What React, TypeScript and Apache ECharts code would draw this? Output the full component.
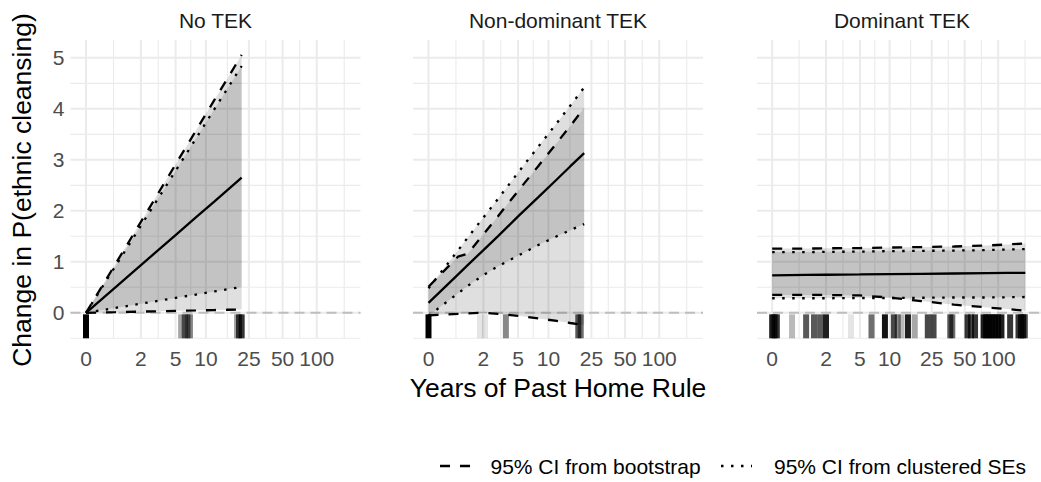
import React, { useEffect, useRef } from "react";
import * as echarts from "echarts";

const FONT = "'Liberation Sans', Arial, Helvetica, sans-serif";

// ---------- texts ----------
const PANEL_TITLES = ["No TEK", "Non-dominant TEK", "Dominant TEK"];
const X_TITLE = "Years of Past Home Rule";
const Y_TITLE = "Change in P(ethnic cleansing)";
const LEGEND_BOOT = "95% CI from bootstrap";
const LEGEND_CLUST = "95% CI from clustered SEs";

// ---------- axis ticks ----------
const X_TICK_YEARS = [0, 2, 5, 10, 25, 50, 100];
const Y_TICKS = [0, 1, 2, 3, 4, 5];
const Y_MINOR = [-0.5, 0.5, 1.5, 2.5, 3.5, 4.5];

// ---------- No TEK ----------
const NO_YEARS = [0, 0.8, 1.2, 2, 3, 5, 8, 12, 16, 21.5];
const NO_EST = [0, 0.5, 0.67, 0.935, 1.18, 1.525, 1.87, 2.18, 2.41, 2.65];
const NO_BOOT_HI = [0, 0.955, 1.28, 1.785, 2.25, 2.91, 3.57, 4.17, 4.6, 5.06];
const NO_BOOT_LO = [0, 0.012, 0.017, 0.023, 0.029, 0.038, 0.046, 0.054, 0.06, 0.065];
const NO_CLUST_HI = [0, 0.915, 1.225, 1.71, 2.155, 2.785, 3.415, 3.99, 4.405, 4.84];
const NO_CLUST_LO = [0, 0.096, 0.128, 0.179, 0.226, 0.292, 0.358, 0.418, 0.462, 0.508];
// rug: [years, number of observations]
const NO_RUG = [[0, 60], [5.7, 4], [6.2, 8], [6.6, 8], [7, 6], [19.5, 4], [20.3, 12], [21.5, 15]];

// ---------- Non-dominant TEK ----------
const ND_YEARS = [0, 0.8, 1.2, 2, 3, 5, 8, 12, 16, 21.5];
const ND_EST = [0.196, 0.75, 0.94, 1.23, 1.5, 1.89, 2.27, 2.615, 2.87, 3.13];
const ND_BOOT_HI = [0.51, 1.1, 1.16, 1.54, 1.89, 2.39, 2.88, 3.33, 3.66, 4.02];
const ND_BOOT_LO = [-0.05, -0.02, -0.01, 0.0, -0.02, -0.06, -0.11, -0.16, -0.2, -0.24];
const ND_CLUST_HI = [0.48, 1.22, 1.48, 1.87, 2.23, 2.75, 3.26, 3.72, 4.06, 4.42];
const ND_CLUST_LO = [-0.06, 0.38, 0.53, 0.74, 0.91, 1.12, 1.33, 1.5, 1.62, 1.74];
const ND_RUG = [[0, 60], [1.8, 1], [2.1, 1], [3.7, 6], [19, 10], [20, 8]];

// ---------- Dominant TEK ----------
const D_YEARS = [0, 1, 2, 5, 10, 20, 40, 80, 120, 175];
const D_EST = [0.735, 0.742, 0.746, 0.752, 0.758, 0.765, 0.771, 0.778, 0.782, 0.785];
const D_BOOT_HI = [1.26, 1.26, 1.265, 1.27, 1.28, 1.29, 1.3, 1.32, 1.34, 1.36];
const D_BOOT_LO = [0.35, 0.35, 0.35, 0.34, 0.3, 0.23, 0.16, 0.105, 0.075, 0.04];
const D_CLUST_HI = [1.19, 1.19, 1.195, 1.2, 1.21, 1.215, 1.22, 1.23, 1.24, 1.25];
const D_CLUST_LO = [0.285, 0.285, 0.285, 0.29, 0.29, 0.295, 0.3, 0.3, 0.305, 0.31];
const D_RUG = [
  [0, 20], [0.05, 15], [0.1, 15],
  [0.5, 3],
  [1, 10], [1.35, 10], [1.66, 10], [2, 20],
  [4, 1],
  [6.6, 8],
  [9, 25],
  [11, 12], [12, 6], [13, 3],
  [15, 20], [17.4, 4],
  [23, 12], [26, 12],
  [37, 10], [38.6, 8],
  [53, 15], [57, 12], [62, 15],
  [74, 20], [78, 20], [83, 20], [88, 20], [94, 20], [100, 20], [107, 20],
  [128, 15],
  [152, 15], [160, 15], [167, 15], [173, 12],
];

// ---------- layout / style ----------
const GRID_LEFTS = [70.5, 413, 757];
const GRID_TOP = 40;
const GRID_W = 290;
const GRID_H = 298.3;
const X_MIN = -0.31;
const X_MAX = 5.49;
const Y_MIN = -0.5;
const Y_MAX = 5.35;
const RUG_TOP = -0.03;
const GRID_COLOR = "#EBEBEB";
const LINE_W = 2.3;
const DASH = [10, 10];
const DOT = [2.5, 7.5];
const BAND_FILL = "rgba(0,0,0,0.125)";

const tf = (y: number) => Math.log1p(y);
const X_TICK_T = X_TICK_YEARS.map(tf);
const X_MINOR_T = (() => {
  const out: number[] = [];
  for (let i = 0; i < X_TICK_T.length - 1; i++) out.push((X_TICK_T[i] + X_TICK_T[i + 1]) / 2);
  const step = X_TICK_T[1] - X_TICK_T[0];
  out.push(X_TICK_T[X_TICK_T.length - 1] + step / 2);
  return out;
})();

const PANELS = [
  { years: NO_YEARS, est: NO_EST, bootHi: NO_BOOT_HI, bootLo: NO_BOOT_LO, clHi: NO_CLUST_HI, clLo: NO_CLUST_LO, rug: NO_RUG },
  { years: ND_YEARS, est: ND_EST, bootHi: ND_BOOT_HI, bootLo: ND_BOOT_LO, clHi: ND_CLUST_HI, clLo: ND_CLUST_LO, rug: ND_RUG },
  { years: D_YEARS, est: D_EST, bootHi: D_BOOT_HI, bootLo: D_BOOT_LO, clHi: D_CLUST_HI, clLo: D_CLUST_LO, rug: D_RUG },
];

function gridRender(_p: any, api: any) {
  const children: any[] = [];
  const top = api.coord([0, Y_MAX])[1];
  const bottom = api.coord([0, Y_MIN])[1];
  const left = api.coord([X_MIN, 0])[0];
  const right = api.coord([X_MAX, 0])[0];
  X_MINOR_T.forEach((t) => {
    const x = api.coord([t, 0])[0];
    children.push({ type: "line", shape: { x1: x, y1: top, x2: x, y2: bottom }, style: { stroke: GRID_COLOR, lineWidth: 1.1 } });
  });
  Y_MINOR.forEach((v) => {
    const y = api.coord([0, v])[1];
    children.push({ type: "line", shape: { x1: left, y1: y, x2: right, y2: y }, style: { stroke: GRID_COLOR, lineWidth: 1.1 } });
  });
  X_TICK_T.forEach((t) => {
    const x = api.coord([t, 0])[0];
    children.push({ type: "line", shape: { x1: x, y1: top, x2: x, y2: bottom }, style: { stroke: GRID_COLOR, lineWidth: 2 } });
  });
  Y_TICKS.forEach((v) => {
    const y = api.coord([0, v])[1];
    children.push({ type: "line", shape: { x1: left, y1: y, x2: right, y2: y }, style: { stroke: GRID_COLOR, lineWidth: 2 } });
  });
  const y0 = api.coord([0, 0])[1];
  children.push({ type: "line", shape: { x1: left, y1: y0, x2: right, y2: y0 }, style: { stroke: "#BEBEBE", lineWidth: 2, lineDash: [10, 6] } });
  return { type: "group", children };
}

function bandRender(years: number[], hi: number[], lo: number[]) {
  return (_p: any, api: any) => {
    const pts: number[][] = [];
    years.forEach((yr, i) => pts.push(api.coord([tf(yr), hi[i]])));
    for (let i = years.length - 1; i >= 0; i--) pts.push(api.coord([tf(years[i]), lo[i]]));
    return { type: "polygon", shape: { points: pts }, style: { fill: BAND_FILL } };
  };
}

function rugRender(_p: any, api: any) {
  const t = api.value(0);
  const n = api.value(1);
  const [x, yTop] = api.coord([t, RUG_TOP]);
  const yBot = api.coord([t, Y_MIN])[1];
  return {
    type: "rect",
    shape: { x: x - 3, y: yTop, width: 6, height: yBot - yTop },
    style: { fill: "#000", opacity: 1 - Math.pow(0.9, n) },
  };
}

function buildOption() {
  const grid: any[] = [];
  const xAxis: any[] = [];
  const yAxis: any[] = [];
  const series: any[] = [];

  PANELS.forEach((p, i) => {
    grid.push({ left: GRID_LEFTS[i], top: GRID_TOP, width: GRID_W, height: GRID_H });
    xAxis.push({
      type: "value",
      gridIndex: i,
      min: X_MIN,
      max: X_MAX,
      axisLine: { show: false },
      axisTick: { show: false },
      splitLine: { show: false },
      axisLabel: {
        customValues: X_TICK_T,
        formatter: (v: number) => String(Math.round(Math.expm1(v))),
        fontSize: 21,
        fontFamily: FONT,
        color: "#4D4D4D",
        margin: 10,
      },
    });
    yAxis.push({
      type: "value",
      gridIndex: i,
      min: Y_MIN,
      max: Y_MAX,
      axisLine: { show: false },
      axisTick: { show: false },
      splitLine: { show: false },
      axisLabel: {
        show: i === 0,
        customValues: Y_TICKS,
        fontSize: 21,
        fontFamily: FONT,
        color: "#4D4D4D",
        margin: 6,
      },
    });

    series.push({ type: "custom", xAxisIndex: i, yAxisIndex: i, z: 0, silent: true, data: [[0, 0]], renderItem: gridRender });
    series.push({ type: "custom", xAxisIndex: i, yAxisIndex: i, z: 1, silent: true, data: [[0, 0]], renderItem: bandRender(p.years, p.bootHi, p.bootLo) });
    series.push({ type: "custom", xAxisIndex: i, yAxisIndex: i, z: 1, silent: true, data: [[0, 0]], renderItem: bandRender(p.years, p.clHi, p.clLo) });
    series.push({
      type: "custom", xAxisIndex: i, yAxisIndex: i, z: 1, silent: true,
      data: p.rug.map((r) => [tf(r[0]), r[1]]),
      renderItem: rugRender,
    });
    const mk = (vals: number[], type: any) => ({
      type: "line",
      xAxisIndex: i,
      yAxisIndex: i,
      z: 3,
      silent: true,
      showSymbol: false,
      symbol: "none",
      data: p.years.map((yr, k) => [tf(yr), vals[k]]),
      lineStyle: { color: "#000", width: LINE_W, type, cap: "butt" },
    });
    series.push(mk(p.est, "solid"));
    series.push(mk(p.bootHi, DASH));
    series.push(mk(p.bootLo, DASH));
    series.push(mk(p.clHi, DOT));
    series.push(mk(p.clLo, DOT));
  });

  const graphic: any[] = [];
  PANEL_TITLES.forEach((t, i) => {
    graphic.push({
      type: "text",
      x: GRID_LEFTS[i] + GRID_W / 2,
      y: 20,
      style: { text: t, fontSize: 21, fontFamily: FONT, fill: "#1A1A1A", textAlign: "center", textVerticalAlign: "middle" },
    });
  });
  graphic.push({
    type: "text", x: 558, y: 388,
    style: { text: X_TITLE, fontSize: 26.5, fontFamily: FONT, fill: "#000", textAlign: "center", textVerticalAlign: "middle" },
  });
  graphic.push({
    type: "text", x: 22, y: 190, rotation: Math.PI / 2,
    style: { text: Y_TITLE, fontSize: 26.5, fontFamily: FONT, fill: "#000", textAlign: "center", textVerticalAlign: "middle" },
  });
  // legend
  graphic.push({ type: "line", shape: { x1: 440, y1: 466, x2: 471, y2: 466 }, style: { stroke: "#000", lineWidth: LINE_W, lineDash: DASH } });
  graphic.push({ type: "text", x: 490.5, y: 466, style: { text: LEGEND_BOOT, fontSize: 21, fontFamily: FONT, fill: "#000", textAlign: "left", textVerticalAlign: "middle" } });
  graphic.push({ type: "line", shape: { x1: 721, y1: 466, x2: 752, y2: 466 }, style: { stroke: "#000", lineWidth: LINE_W, lineDash: DOT } });
  graphic.push({ type: "text", x: 774, y: 466, style: { text: LEGEND_CLUST, fontSize: 21, fontFamily: FONT, fill: "#000", textAlign: "left", textVerticalAlign: "middle" } });

  return { animation: false, backgroundColor: "#fff", grid, xAxis, yAxis, series, graphic };
}

export default function App() {
  const ref = useRef<HTMLDivElement>(null);
  useEffect(() => {
    document.body.style.margin = "0";
    const chart = echarts.init(ref.current!, null as any, { renderer: "svg" });
    chart.setOption(buildOption() as any);
    return () => chart.dispose();
  }, []);
  return <div ref={ref} style={{ position: "absolute", left: 0, top: 0, width: 1041, height: 482 }} />;
}
